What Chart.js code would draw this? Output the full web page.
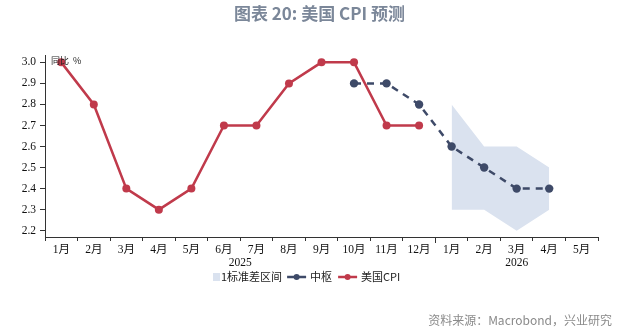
<!DOCTYPE html>
<html><head><meta charset="utf-8">
<script src="https://cdn.jsdelivr.net/npm/chart.js@4/dist/chart.umd.min.js"></script>
<style>
html,body{margin:0;padding:0;background:#fff;}
#wrap{position:relative;width:639px;height:331px;}
#title{position:absolute;left:0;top:0px;width:639px;text-align:center;font:bold 17px "Noto Sans CJK SC","Noto Sans",sans-serif;color:#7b8799;}
#src{position:absolute;right:27px;top:311px;font:12px "Noto Sans CJK SC","Noto Sans",sans-serif;color:#8a8a8a;}
canvas{position:absolute;left:0;top:0;}
</style></head>
<body><div id="wrap">
<canvas id="c" width="639" height="331"></canvas>
<div id="title">图表 20: 美国 CPI 预测</div>
<div id="src">资料来源：Macrobond，兴业研究</div>
</div>
<script>
const months = ["1月","2月","3月","4月","5月","6月","7月","8月","9月","10月","11月","12月","1月","2月","3月","4月","5月"];
const years = [{label:"2025", from:0, to:11},{label:"2026", from:12, to:16}];
const cpi = [3.0,2.8,2.4,2.3,2.4,2.7,2.7,2.9,3.0,3.0,2.7,2.7,null,null,null,null,null];
const center = [null,null,null,null,null,null,null,null,null,2.9,2.9,2.8,2.6,2.5,2.4,2.4,null];
const bandUpper = [null,null,null,null,null,null,null,null,null,null,null,null,2.8,2.6,2.6,2.5,null];
const bandLower = [null,null,null,null,null,null,null,null,null,null,null,null,2.3,2.3,2.2,2.3,null];
const yTicks = [2.2,2.3,2.4,2.5,2.6,2.7,2.8,2.9,3.0];
const seriesNames = ["1标准差区间","中枢","美国CPI"];
const unitLabel = "同比  %";

const RED = "#c03a4b", NAVY = "#3e4a68", BAND = "#dae2ef";

const extras = {
  id:"extras",
  afterDraw(chart){
    const ctx = chart.ctx, xs = chart.scales.x, ca = chart.chartArea;
    ctx.save();
    ctx.fillStyle = "#222";
    ctx.font = '9px "Noto Sans CJK SC", sans-serif';
    ctx.textBaseline = "middle";
    ctx.textAlign = "left";
    ctx.fillText(unitLabel, ca.left + 6, 61);
    const bx = (xs.getPixelForValue(11) + xs.getPixelForValue(12)) / 2;
    ctx.strokeStyle = "#333"; ctx.lineWidth = 1;
    ctx.beginPath(); ctx.moveTo(Math.round(bx)+0.5, ca.bottom); ctx.lineTo(Math.round(bx)+0.5, ca.bottom+6); ctx.stroke();
    ctx.font = '11.5px "Liberation Serif", serif';
    ctx.textAlign = "center";
    ctx.fillStyle = "#111";
    years.forEach(y => {
      const x = (xs.getPixelForValue(y.from) + xs.getPixelForValue(y.to)) / 2;
      ctx.fillText(y.label, x, 263);
    });
    const ly = 277;
    ctx.font = '11px "Noto Sans CJK SC", sans-serif';
    ctx.textAlign = "left";
    let x = 213;
    ctx.fillStyle = BAND; ctx.fillRect(x, ly-4, 7, 8);
    x += 8;
    ctx.fillStyle = "#222"; ctx.fillText(seriesNames[0], x, ly);
    x += ctx.measureText(seriesNames[0]).width + 5;
    [[NAVY, seriesNames[1]],[RED, seriesNames[2]]].forEach(([col,name]) => {
      ctx.strokeStyle = col; ctx.lineWidth = 2.5;
      ctx.beginPath(); ctx.moveTo(x, ly); ctx.lineTo(x+19, ly); ctx.stroke();
      ctx.fillStyle = col; ctx.beginPath(); ctx.arc(x+9.5, ly, 3, 0, Math.PI*2); ctx.fill();
      x += 23;
      ctx.fillStyle = "#222"; ctx.fillText(name, x, ly);
      x += ctx.measureText(name).width + 6;
    });
    ctx.restore();
  }
};

new Chart(document.getElementById("c"), {
  type: "line",
  data: {
    labels: months,
    datasets: [
      {label: seriesNames[0], data: bandUpper, borderWidth: 0, pointRadius: 0, backgroundColor: BAND, borderColor: BAND, fill: "+1", order: 3, tension: 0},
      {label: "lower", data: bandLower, borderWidth: 0, pointRadius: 0, backgroundColor: BAND, borderColor: BAND, fill: false, order: 3, tension: 0},
      {label: seriesNames[1], data: center, borderColor: NAVY, backgroundColor: NAVY, borderWidth: 2.5, borderDash: [7,6], pointRadius: 4.2, pointBackgroundColor: NAVY, pointBorderWidth: 0, fill: false, order: 2, tension: 0},
      {label: seriesNames[2], data: cpi, borderColor: RED, backgroundColor: RED, borderWidth: 2.5, pointRadius: 4, pointBackgroundColor: RED, pointBorderWidth: 0, fill: false, order: 1, tension: 0}
    ]
  },
  options: {
    responsive: false,
    animation: false,
    devicePixelRatio: 1,
    layout: {padding: {top: 55, right: 41, left: 0, bottom: 0}},
    plugins: {legend: {display: false}, tooltip: {enabled: false}, title: {display: false}},
    scales: {
      x: {
        offset: true,
        grid: {offset: true, drawOnChartArea: false, drawTicks: true, tickLength: 4, color: "#333"},
        border: {display: true, color: "#333", width: 1},
        ticks: {color: "#111", font: {family: '"Liberation Serif", "Noto Sans CJK SC", serif', size: 11.5}, maxRotation: 0, autoSkip: false, padding: 2},
        afterFit(s){ s.height = 94; }
      },
      y: {
        min: 2.17, max: 3.035,
        afterBuildTicks(s){ s.ticks = yTicks.map(v => ({value: v})); },
        grid: {drawOnChartArea: false, drawTicks: true, tickLength: 5, color: "#333"},
        border: {display: true, color: "#333", width: 1},
        ticks: {color: "#111", font: {family: '"Liberation Serif", serif', size: 11.5}, padding: 4, callback: v => Number(v).toFixed(1)},
        afterFit(s){ s.width = 45; }
      }
    }
  },
  plugins: [extras]
});
</script>
</body></html>
